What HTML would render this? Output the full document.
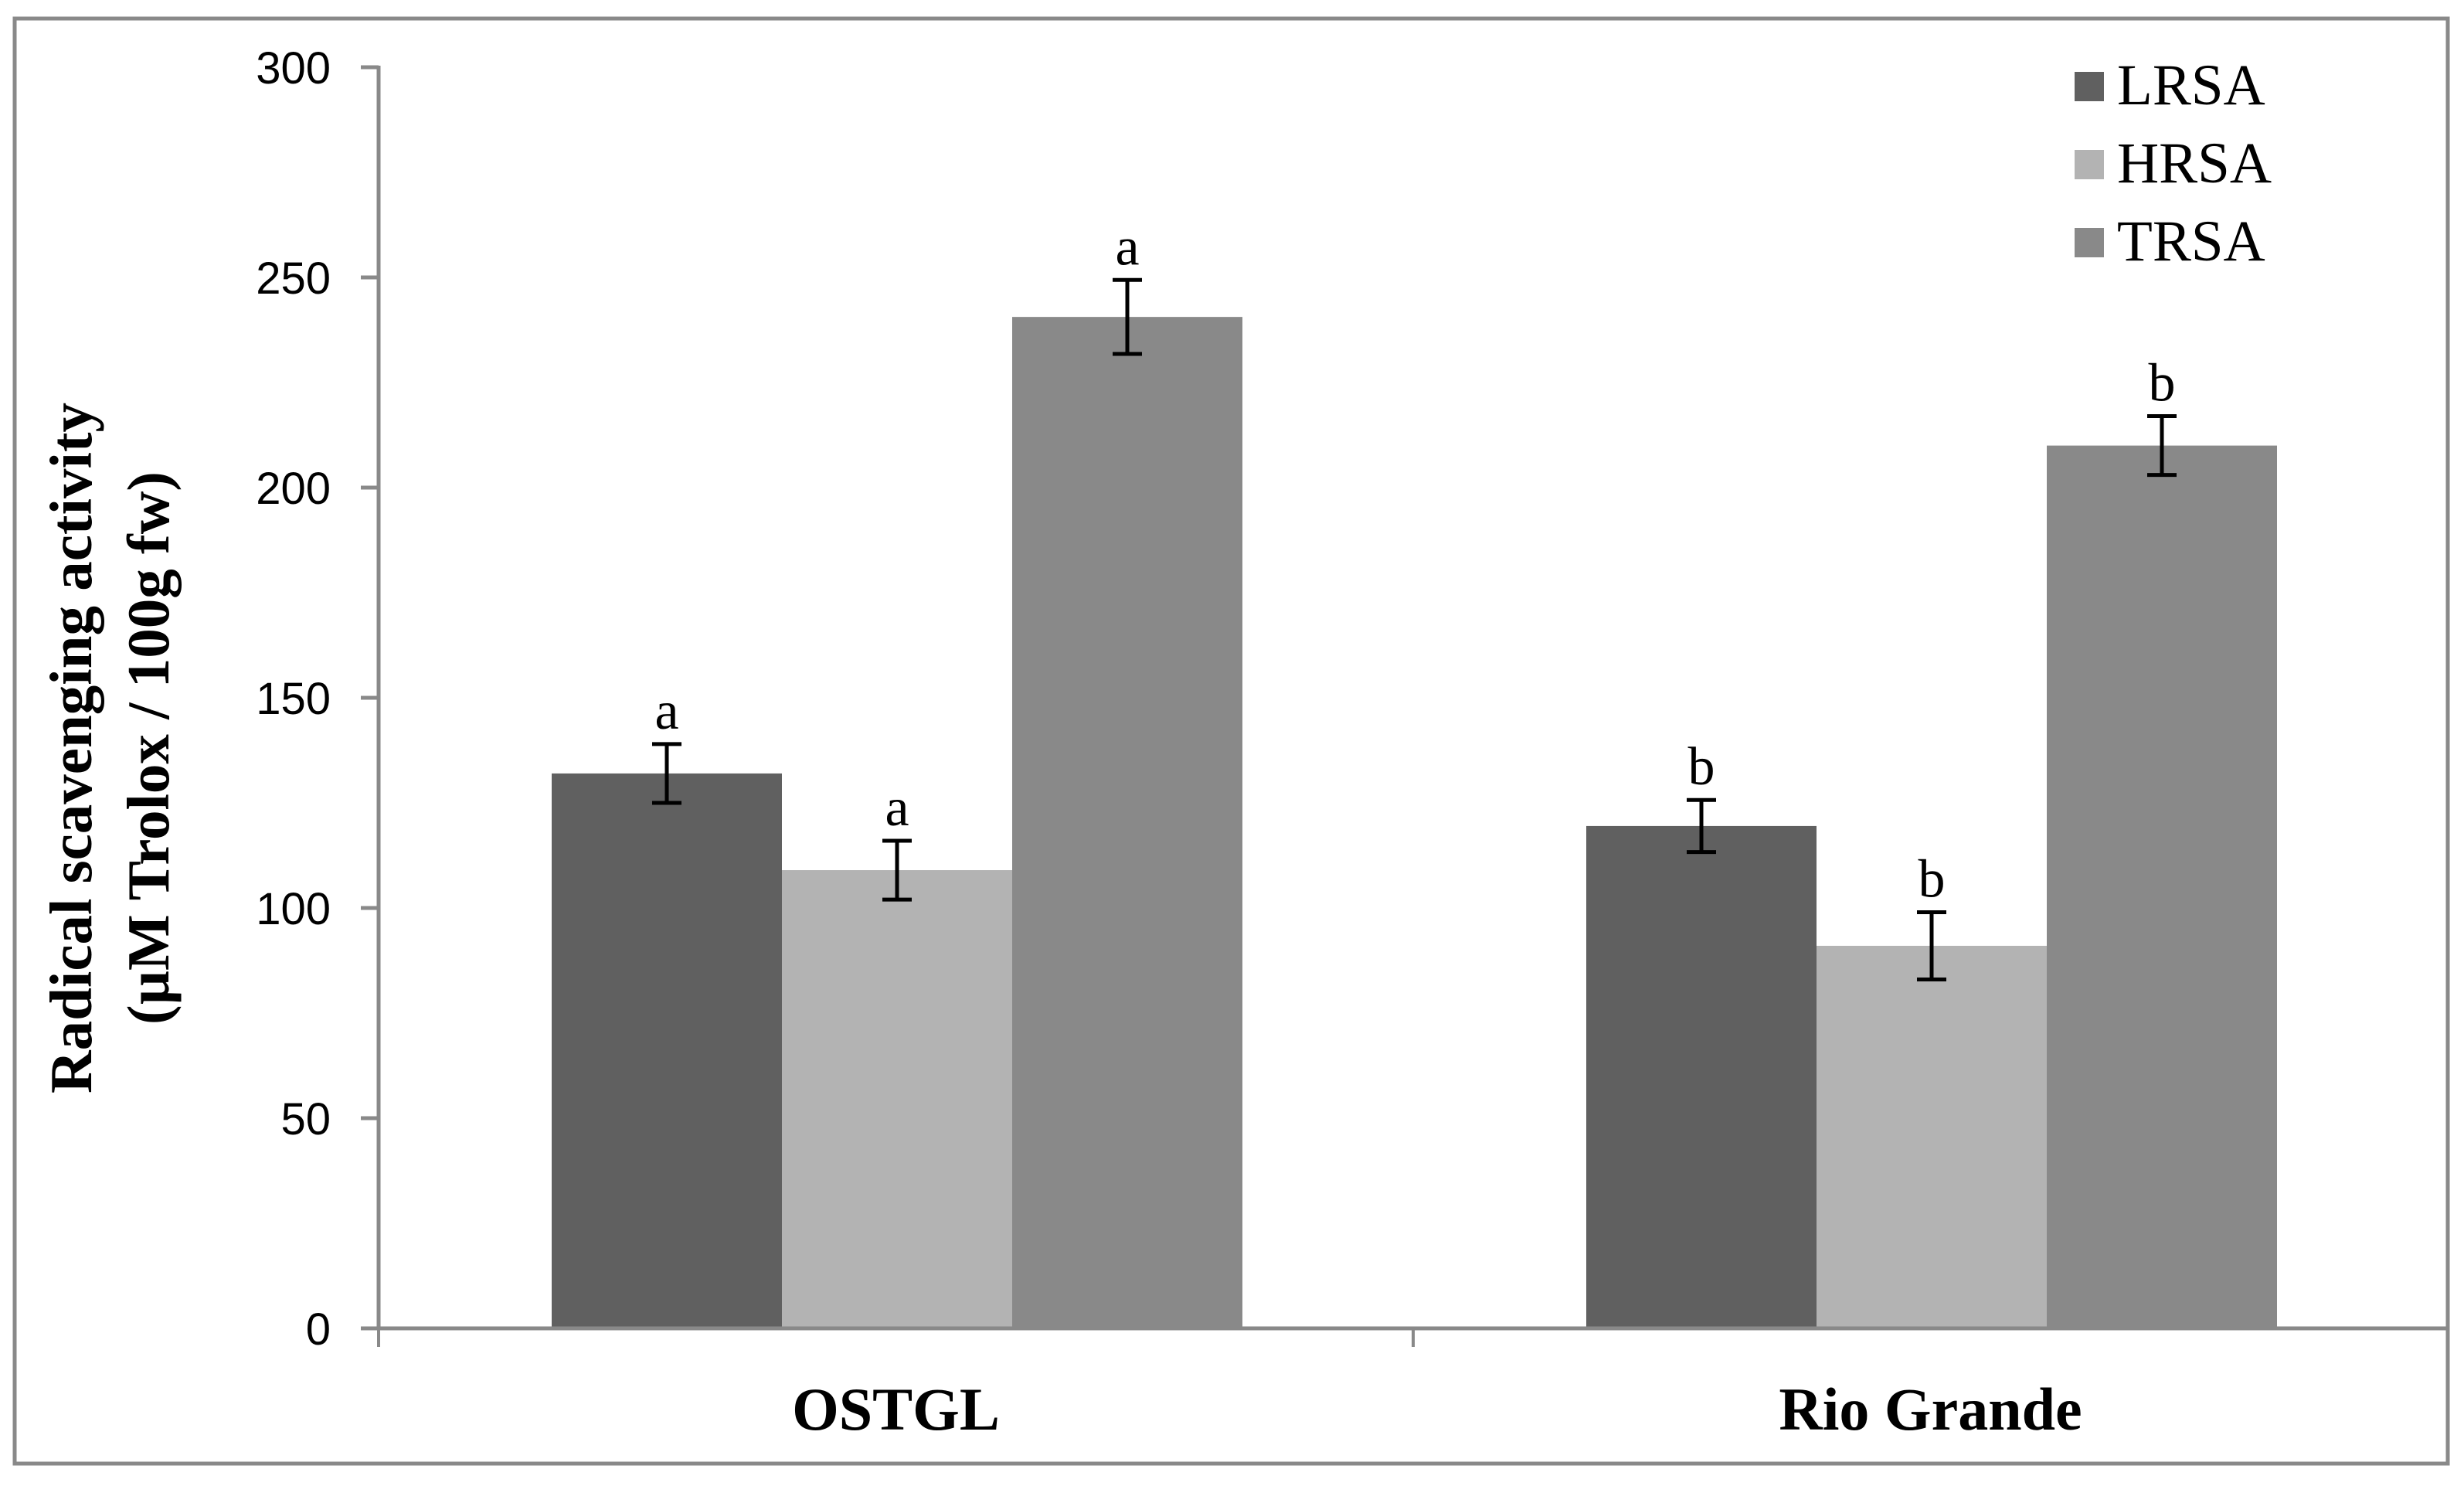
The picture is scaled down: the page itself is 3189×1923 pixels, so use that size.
<!DOCTYPE html>
<html><head><meta charset="utf-8"><style>
html,body{margin:0;padding:0;background:#fff;}
svg{display:block;}
</style></head><body>
<svg id="chart" width="3189" height="1923" xmlns="http://www.w3.org/2000/svg">
<rect x="19" y="24" width="3149" height="1870" fill="#fff" stroke="#898989" stroke-width="5"/>
<g id="plot"></g>
<g font-family="Liberation Serif, serif" font-weight="bold" font-size="77" fill="#000">
<text transform="translate(118,968) rotate(-90)" text-anchor="middle">Radical scavenging activity</text>
<text transform="translate(218,968) rotate(-90)" text-anchor="middle">(µM Trolox / 100g fw)</text>
</g>
<g id="legend"></g>
</svg>
<script>
const categories = ["OSTGL", "Rio Grande"];
const seriesNames = ["LRSA", "HRSA", "TRSA"];
const lrsa = [132, 119.5];
const hrsa = [109, 91];
const trsa = [240.6, 210];
const lrsaErr = [7, 6.2];
const hrsaErr = [7, 8];
const trsaErr = [8.8, 7];
const lrsaLetters = ["a", "b"];
const hrsaLetters = ["a", "b"];
const trsaLetters = ["a", "b"];
const yTicks = [0, 50, 100, 150, 200, 250, 300];

const NS = "http://www.w3.org/2000/svg";
const colors = ["#606060", "#b3b3b3", "#898989"];
const X0 = 490, X1 = 3168, Y0 = 1719, Y300 = 87;
const catW = 1339, groupOff = 224, barW = 298;
function y(v){ return Y0 - (v / 300) * (Y0 - Y300); }
function xBar(ci, si){ return X0 + ci * catW + groupOff + si * barW; }
const plot = document.getElementById("plot");
function mk(tag, attrs){ const e = document.createElementNS(NS, tag); for (const k in attrs) e.setAttribute(k, attrs[k]); return e; }

const series = [lrsa, hrsa, trsa];
const errs = [lrsaErr, hrsaErr, trsaErr];
const letters = [lrsaLetters, hrsaLetters, trsaLetters];

series.forEach((vals, si) => {
  vals.forEach((v, ci) => {
    const r = mk("rect", {x: xBar(ci, si), y: y(v), width: barW, height: Y0 - y(v), fill: colors[si]});
    
    
    plot.appendChild(r);
  });
});

const ya = mk("line", {x1: X0, y1: Y300 - 2, x2: X0, y2: Y0, stroke: "#898989", "stroke-width": 5});


plot.appendChild(ya);
const xa = mk("line", {x1: 467, y1: Y0, x2: X1, y2: Y0, stroke: "#898989", "stroke-width": 5});


plot.appendChild(xa);

yTicks.forEach(t => {
  const tk = mk("line", {x1: 467, y1: y(t), x2: X0, y2: y(t), stroke: "#898989", "stroke-width": 5});
  
  
  plot.appendChild(tk);
  const tl = mk("text", {x: 428, y: y(t) + 21, "text-anchor": "end", "font-family": "Liberation Sans, sans-serif", "font-size": 58, fill: "#000"});
  tl.textContent = t;
  
  
  plot.appendChild(tl);
});
for (let i = 0; i <= categories.length - 1; i++) {
  const tk = mk("line", {x1: X0 + i * catW, y1: Y0, x2: X0 + i * catW, y2: Y0 + 24, stroke: "#898989", "stroke-width": 4});
  
  
  plot.appendChild(tk);
}
const mid = mk("line", {x1: X0 + catW, y1: Y0, x2: X0 + catW, y2: Y0 + 24, stroke: "#898989", "stroke-width": 4});


plot.appendChild(mid);

categories.forEach((c, ci) => {
  const t = mk("text", {x: X0 + ci * catW + catW / 2, y: 1850, "text-anchor": "middle", "font-family": "Liberation Serif, serif", "font-weight": "bold", "font-size": 78, fill: "#000"});
  t.textContent = c;
  
  
  plot.appendChild(t);
});

series.forEach((vals, si) => {
  vals.forEach((v, ci) => {
    const cx = xBar(ci, si) + barW / 2;
    const top = y(v + errs[si][ci]), bot = y(v - errs[si][ci]);
    const g = mk("g", {stroke: "#000", "stroke-width": 5});
    
    
    g.appendChild(mk("line", {x1: cx, y1: top, x2: cx, y2: bot}));
    g.appendChild(mk("line", {x1: cx - 19, y1: top, x2: cx + 19, y2: top}));
    g.appendChild(mk("line", {x1: cx - 19, y1: bot, x2: cx + 19, y2: bot}));
    plot.appendChild(g);
    const lt = mk("text", {x: cx, y: top - 20, "text-anchor": "middle", "font-family": "Liberation Serif, serif", "font-size": 70, fill: "#000"});
    lt.textContent = letters[si][ci];
    
    
    plot.appendChild(lt);
  });
});

const legend = document.getElementById("legend");
seriesNames.forEach((n, i) => {
  const yy = 93 + i * 101;
  const sq = mk("rect", {x: 2685, y: yy, width: 38, height: 38, fill: colors[i]});
  
  
  legend.appendChild(sq);
  const t = mk("text", {x: 2740, y: yy + 42, "font-family": "Liberation Serif, serif", "font-size": 75, fill: "#000"});
  t.textContent = n;
  
  
  legend.appendChild(t);
});
</script>
</body></html>
